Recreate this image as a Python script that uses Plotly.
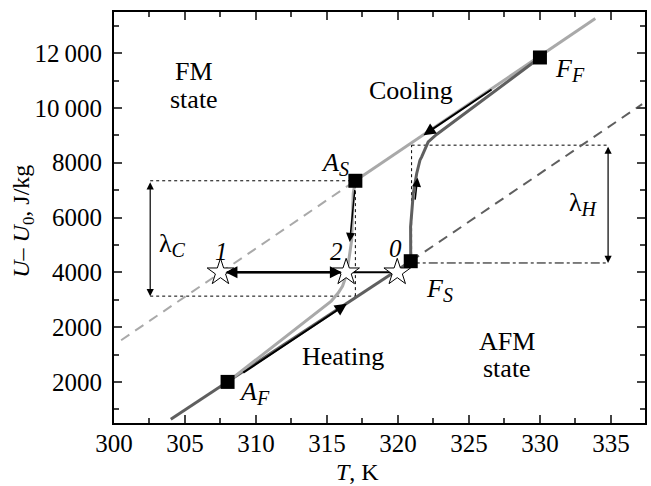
import plotly.graph_objects as go

# ---- data ----
# FM line (light gray): solid part and dashed extension
fm_solid_x = [317.0, 333.9]
fm_solid_y = [7340, 13260]
fm_dash_x = [300.5, 317.0]
fm_dash_y = [1520, 7340]
# AFM line (dark gray): solid part and dashed extension
afm_solid_x = [304.0, 320.9]
afm_solid_y = [-1360, 4405]
afm_dash_x = [320.9, 337.2]
afm_dash_y = [4405, 10135]
# heating curve (light gray): A_F -> 2 -> A_S
heat_x = [308.0, 311.7, 315.3, 315.8, 316.1, 316.3, 316.4, 316.57, 316.74, 316.85, 317.0]
heat_y = [0, 1490, 2950, 3250, 3500, 3800, 4000, 4563, 5172, 6877, 7340]
# cooling curve (dark gray): F_S -> F_F
cool_x = [320.9, 320.89, 321.08, 321.32, 321.55, 321.67, 322.13, 322.72, 330.0]
cool_y = [4405, 5658, 6877, 7607, 8092, 8213, 8760, 9030, 11840]
# characteristic points (squares)
sq_x = [308.0, 317.0, 330.0, 320.9]
sq_y = [0, 7340, 11840, 4405]
sq_main = ["A", "A", "F", "F"]
sq_sub = ["F", "S", "F", "S"]
sq_label_x = [309.9, 315.6, 332.1, 322.9]
sq_label_y = [-420, 7970, 11380, 3350]
# stars
star_x = [307.5, 316.35, 319.95]
star_y = [4000, 4000, 4000]
star_names = ["1", "2", "0"]
star_label_x = [307.55, 315.7, 319.85]
star_label_y = [4760, 4760, 4870]
# lambda_C box
lc_x = 302.55
lc_lo, lc_hi = 3130, 7340
lc_right = 317.0
# lambda_H box
lh_x = 334.8
lh_lo, lh_hi = 4340, 8640
lh_left = 320.96

# tick labels (as printed)
x_ticks = [300, 305, 310, 315, 320, 325, 330, 335]
y_tickvals = [0, 2000, 4000, 6000, 8000, 10000, 12000]
y_ticktext = ["2000", "2000", "4000", "6000", "8000", "10\u2009000", "12\u2009000"]

LG = "#a9a9a9"
DG = "#5f5f5f"
FONT = "Liberation Serif, Times New Roman, serif"

fig = go.Figure()

def line(x, y, color, width=3, dash=None):
    fig.add_trace(go.Scatter(x=x, y=y, mode="lines",
                             line=dict(color=color, width=width, dash=dash),
                             hoverinfo="skip", showlegend=False))

# dotted / dash-dot guide lines
line([lc_x, lc_right], [lc_hi, lc_hi], "black", 1, "dot")
line([lc_x, lc_right], [lc_lo, lc_lo], "black", 1, "dot")
line([lc_right, lc_right], [lc_lo, lc_hi], "black", 1, "dot")
line([lh_left, lh_x], [lh_hi, lh_hi], "black", 1, "dot")
line([lh_left, lh_left], [sq_y[3], lh_hi], "black", 1, "dot")
line([sq_x[3], lh_x], [lh_lo, lh_lo], "black", 1, "dashdot")

line(fm_dash_x, fm_dash_y, LG, 2, "10px,7px")
line(afm_dash_x, afm_dash_y, DG, 2, "10px,7px")
line(afm_solid_x, afm_solid_y, DG, 3)
line(fm_solid_x, fm_solid_y, LG, 3)
line(heat_x, heat_y, LG, 3)
line(cool_x, cool_y, DG, 3)

# horizontal line through stars
line([star_x[0], star_x[2]], [star_y[0], star_y[2]], "black", 2)

fig.add_trace(go.Scatter(x=sq_x, y=sq_y, mode="markers",
                         marker=dict(symbol="square", size=14, color="black"),
                         hoverinfo="skip", showlegend=False))
fig.add_trace(go.Scatter(x=star_x, y=star_y, mode="markers",
                         marker=dict(symbol="star", size=20, color="white",
                                     line=dict(color="black", width=1)),
                         hoverinfo="skip", showlegend=False))

ann = []
def arrow(x0, y0, x1, y1, both=False, width=1.5):
    ann.append(dict(x=x1, y=y1, ax=x0, ay=y0, xref="x", yref="y",
                    axref="x", ayref="y", showarrow=True, arrowhead=2,
                    arrowsize=1.2, arrowwidth=width, arrowcolor="black",
                    arrowside="end+start" if both else "end", text=""))

# lambda arrows
arrow(lc_x, lc_hi, lc_x, lc_lo, both=True, width=1.2)
arrow(lh_x, lh_hi, lh_x, lh_lo, both=True, width=1.2)
# star arrows
arrow(star_x[1] - 0.3, star_y[1], star_x[0] + 0.35, star_y[0], width=2)
arrow(star_x[0] + 0.35, star_y[0], star_x[1] - 0.3, star_y[1], width=2)
# heating arrow along AFM line
arrow(309.0, 300, 316.4, 2850, width=2)
# cooling arrow along FM line
arrow(326.7, 10710, 321.8, 9005, width=2)
# drop arrow from A_S
arrow(316.97, 7060, 316.6, 5110, width=1.5)
# small up arrow on cooling curve
arrow(321.2, 6600, 321.38, 7450, width=1.5)

def text(x, y, s, size=26, xref="x", yref="y", angle=0):
    ann.append(dict(x=x, y=y, xref=xref, yref=yref, text=s, showarrow=False,
                    textangle=angle, xanchor="center", yanchor="middle",
                    font=dict(family=FONT, size=size, color="black")))

def subbed(main, sub, italic=True, subsize=20):
    m = "<i>" + main + "</i>" if italic else main
    s = "<i>" + sub + "</i>"
    return m + "<sub><span style='font-size:%dpx'>%s</span></sub>" % (subsize, s)

for xx, yy, m, s in zip(sq_label_x, sq_label_y, sq_main, sq_sub):
    text(xx, yy, subbed(m, s), 26)
for xx, yy, s in zip(star_label_x, star_label_y, star_names):
    text(xx, yy, "<i>" + s + "</i>", 25)
text(305.6, 11320, "FM", 26)
text(305.6, 10320, "state", 26)
text(327.65, 1480, "AFM", 26)
text(327.65, 480, "state", 26)
text(320.9, 10650, "Cooling", 26)
text(316.1, 910, "Heating", 26)
text(304.1, 4990, subbed("λ", "C", italic=False), 26)
text(333.1, 6510, subbed("λ", "H", italic=False), 26)

# axis titles
text(0.4595, -0.12, "<i>T</i>, K", 24, "paper", "paper")
text(-0.173, 0.49, "<i>U</i>– <i>U</i><sub>0</sub>, J/kg", 24, "paper", "paper", -90)

fig.update_layout(
    width=651, height=486,
    margin=dict(l=114, r=6, t=12, b=63),
    plot_bgcolor="white", paper_bgcolor="white",
    font=dict(family=FONT, size=25, color="black"),
    annotations=ann,
    xaxis=dict(range=[300, 337.4], tickvals=x_ticks, ticks="inside",
               ticklen=8, tickwidth=1.5, showline=True, linewidth=2,
               linecolor="black", mirror="ticks", showgrid=False,
               zeroline=False, automargin=False, ticklabelstandoff=-3,
               tickfont=dict(size=25),
               minor=dict(dtick=2.5, tick0=300, ticks="inside", ticklen=5,
                          tickwidth=1.5, showgrid=False)),
    yaxis=dict(range=[-1500, 13500], tickvals=y_tickvals, ticktext=y_ticktext,
               ticks="inside", ticklen=8, tickwidth=1.5, showline=True,
               linewidth=2, linecolor="black", mirror="ticks",
               showgrid=False, zeroline=False, automargin=False,
               ticklabelstandoff=5, tickfont=dict(size=25),
               minor=dict(dtick=1000, tick0=0, ticks="inside", ticklen=5,
                          tickwidth=1.5, showgrid=False)),
)

fig.write_html("out.html",
               config={"displayModeBar": False},
               post_script="document.body.style.margin='0';"
                           "document.body.style.overflow='hidden';")
